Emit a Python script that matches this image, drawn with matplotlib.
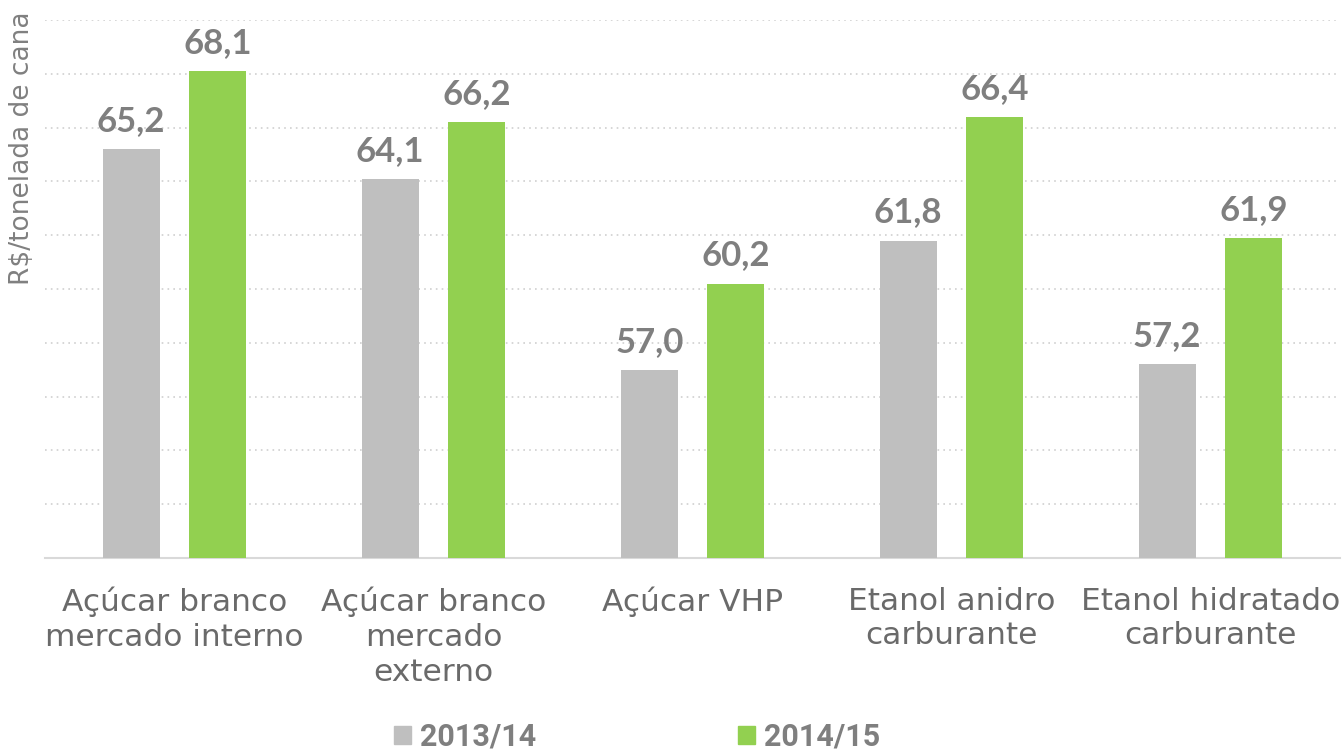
import matplotlib
matplotlib.use("Agg")
import matplotlib.pyplot as plt
import numpy as np
from matplotlib.patches import Patch

categories = ["Açúcar branco\nmercado interno", "Açúcar branco\nmercado\nexterno",
              "Açúcar VHP", "Etanol anidro\ncarburante", "Etanol hidratado\ncarburante"]
series_names = ["2013/14", "2014/15"]
v2013 = [65.2, 64.1, 57.0, 61.8, 57.2]
v2014 = [68.1, 66.2, 60.2, 66.4, 61.9]
colors = ["#BFBFBF", "#92D050"]

fig = plt.figure(figsize=(13.44, 7.53), dpi=100)
ax = fig.add_axes([45/1344, (753-558)/753, 1295/1344, 538/753])

x = np.arange(len(categories))
w = 0.22
off = 0.167
b1 = ax.bar(x - off, v2013, w, color=colors[0], zorder=3)
b2 = ax.bar(x + off, v2014, w, color=colors[1], zorder=3)

for bars, vals in ((b1, v2013), (b2, v2014)):
    for r, v in zip(bars, vals):
        ax.text(r.get_x() + r.get_width()/2, v + 0.45, f"{v:.1f}".replace(".", ","),
                ha="center", va="bottom", fontsize=25, fontweight="bold",
                color="#7F7F7F", family=["Lato", "DejaVu Sans"])

ax.set_xlim(-0.5, len(categories) - 0.5)
ax.set_ylim(50, 70)
ax.set_yticks(np.arange(50, 71, 2))
ax.yaxis.grid(True, linestyle=(0, (1, 2.5)), color="#D0D0D0", linewidth=1.2, zorder=0)
ax.tick_params(axis="y", left=False, labelleft=False)
ax.tick_params(axis="x", bottom=False)
ax.set_xticks(x)
ax.set_xticklabels(categories, fontsize=22.5, color="#6A6A6A",
                   family=["DejaVu Sans"], linespacing=1.25)
for lbl in ax.get_xticklabels():
    lbl.set_y(-0.035)
for s in ("top", "right", "left"):
    ax.spines[s].set_visible(False)
ax.spines["bottom"].set_color("#D9D9D9")
ax.spines["bottom"].set_linewidth(1.5)

fig.text(22/1344, 1 - 148/753, "R$/tonelada de cana", rotation=90, ha="center", va="center",
         fontsize=19, color="#808080", family=["DejaVu Sans"])

handles = [Patch(color=c) for c in colors]
leg = fig.legend(handles, series_names, loc="center", bbox_to_anchor=(637/1344, 1 - 737/753),
                 ncol=2, frameon=False, columnspacing=6.6, handlelength=0.55, handleheight=0.55,
                 handletextpad=0.3, prop={"family": ["Roboto", "DejaVu Sans"], "weight": "bold", "size": 22})
for t in leg.get_texts():
    t.set_color("#7F7F7F")

fig.savefig("out.png", dpi=100)
